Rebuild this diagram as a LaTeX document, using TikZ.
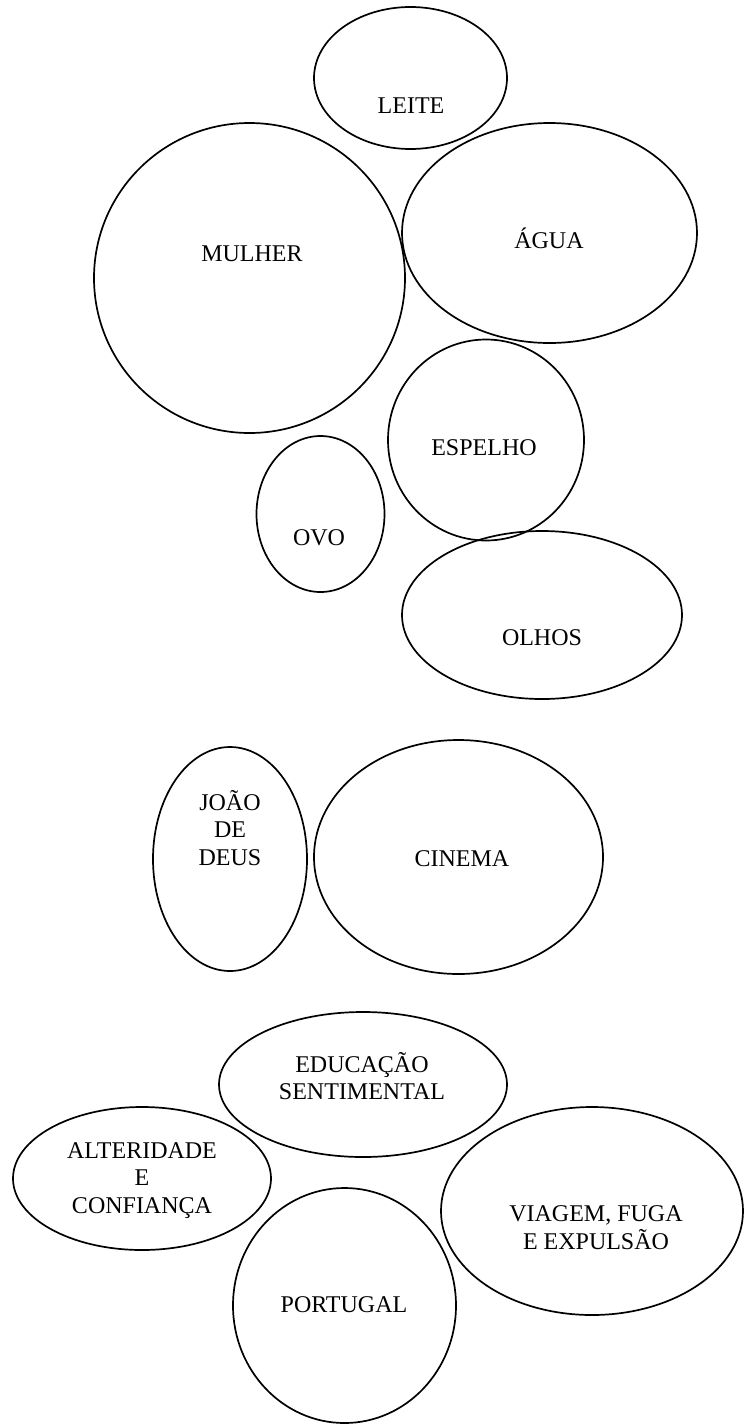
\documentclass[tikz,border=0pt]{standalone}
\usepackage{fontspec}
\setmainfont{Liberation Serif}
\usetikzlibrary{shapes.geometric}
\tikzset{
  bubble/.style={draw=black, line width=1.7pt, ellipse, inner sep=0pt, outer sep=0pt},
  lbl/.style={font=\fontsize{24}{27.6}\selectfont, inner sep=0pt, align=center, anchor=base},
}
\begin{document}
\begin{tikzpicture}[x=1pt,y=-1pt]
\useasboundingbox[fill=white] (0,0) rectangle (744,1425);
% ellipses
\node[bubble, minimum width=193pt, minimum height=142pt] (leite) at (410.5,78) {};
\node[bubble, minimum width=311pt, minimum height=310pt] (mulher) at (249.5,278) {};
\node[bubble, minimum width=295pt, minimum height=220pt] (agua) at (549.5,233) {};
\node[bubble, minimum width=196pt, minimum height=201pt] (espelho) at (486,440) {};
\node[bubble, minimum width=128pt, minimum height=156pt] (ovo) at (320.5,514) {};
\node[bubble, minimum width=280pt, minimum height=168pt] (olhos) at (542,615) {};
\node[bubble, minimum width=154pt, minimum height=224pt] (joao) at (230,859) {};
\node[bubble, minimum width=289pt, minimum height=234pt] (cinema) at (458.5,857) {};
\node[bubble, minimum width=288pt, minimum height=145pt] (educ) at (363,1084.5) {};
\node[bubble, minimum width=258pt, minimum height=143pt] (alter) at (142,1178.5) {};
\node[bubble, minimum width=302pt, minimum height=208pt] (viagem) at (592,1211) {};
\node[bubble, minimum width=223pt, minimum height=235pt] (portugal) at (344.5,1305.5) {};
% labels (base = baseline of last line)
\node[lbl] (leitet) at (411,113.5) {LEITE};
\node[lbl] (mulhert) at (252,261) {MULHER};
\node[lbl] (aguat) at (549,248) {ÁGUA};
\node[lbl] (espelhot) at (484,455.5) {ESPELHO};
\node[lbl] (ovot) at (319,545) {OVO};
\node[lbl] (olhost) at (542,645.5) {OLHOS};
\node[lbl] (joaot) at (230,865.5) {JOÃO\\DE\\DEUS};
\node[lbl] (cinemat) at (462,866.5) {CINEMA};
\node[lbl] (educt) at (362,1099.8) {EDUCAÇÃO\\SENTIMENTAL};
\node[lbl] (altert) at (142,1213.5) {ALTERIDADE\\E\\CONFIANÇA};
\node[lbl] (viagemt) at (596,1249.5) {VIAGEM, FUGA\\E EXPULSÃO};
\node[lbl] (portugalt) at (344,1312.5) {PORTUGAL};
\end{tikzpicture}
\end{document}
